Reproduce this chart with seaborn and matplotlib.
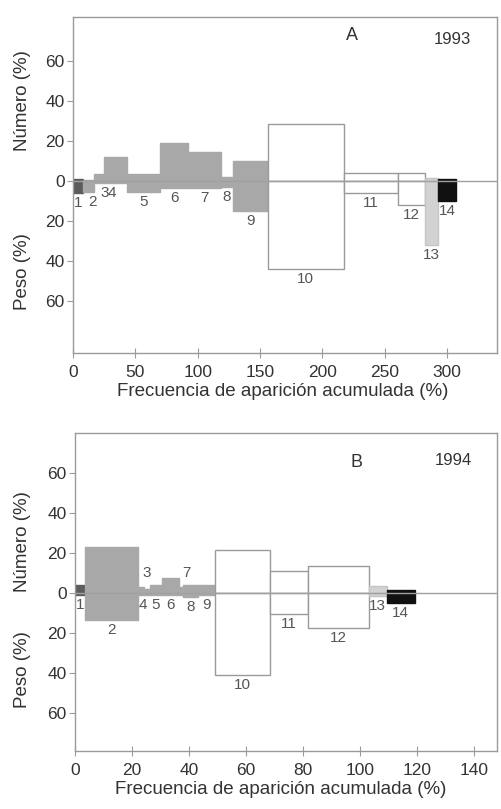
import matplotlib
matplotlib.use("Agg")
import matplotlib.pyplot as plt
from matplotlib.ticker import FuncFormatter
import numpy as np
import pandas as pd
import seaborn as sns

# Prey items (1-14): frequency of occurrence (%), number (%) and weight (%)
items = list(range(1, 15))

freq_1993 = [8, 8.5, 8.5, 18.5, 26.5, 22, 26.5, 9.5, 28, 61, 43.5, 22, 10.5, 14.5]
num_1993 = [1, 0.5, 3.5, 12, 3.5, 19, 14.5, 2, 10, 28.5, 4, 4, 1.5, 1]
peso_1993 = [6, 5.5, 1, 1, 5.5, 3.5, 3.5, 3, 15, 44, 6, 12, 32, 10]

freq_1994 = [3.5, 18.7, 2, 2, 4.3, 6, 1.5, 5, 6, 19.3, 13.3, 21.5, 6.2, 9.8]
num_1994 = [4, 23, 3, 2, 4, 7.5, 3, 4, 4, 21.5, 11, 13.5, 3.5, 1.5]
peso_1994 = [1, 13.5, 1, 1, 1, 1, 1, 2, 1, 41, 10.5, 17.5, 1.5, 5]

# Prey group shading for each item
group = ["dark"] + ["gray"] * 8 + ["white"] * 3 + ["light", "black"]

x_ticks_1993 = [0, 50, 100, 150, 200, 250, 300]
x_ticks_1994 = [0, 20, 40, 60, 80, 100, 120, 140]
y_ticks = [-60, -40, -20, 0, 20, 40, 60]

sns.set_theme(style="ticks")
plt.rcParams["font.family"] = ["Liberation Sans", "DejaVu Sans"]

TXT = "#333333"
EDGE = "#9a9a9a"
face = {"dark": "#5c5c5c", "gray": "#a8a8a8", "white": "#ffffff",
        "light": "#d2d2d2", "black": "#111111"}
edge = {"dark": "#5c5c5c", "gray": "#a8a8a8", "white": "#9a9a9a",
        "light": "#c4c4c4", "black": "#111111"}


def costello(ax, freq, num, peso, xlim, ylim, xticks, nudges):
    df = pd.DataFrame({"item": items, "freq": freq, "num": num,
                       "peso": peso, "group": group})
    df["left"] = df["freq"].cumsum() - df["freq"]
    df["center"] = df["left"] + df["freq"] / 2

    for _, r in df.iterrows():
        for h in (r["num"], -r["peso"]):
            ax.bar(r["left"], h, width=r["freq"], align="edge",
                   color=face[r["group"]], edgecolor=edge[r["group"]],
                   linewidth=1.0, zorder=2)
    ax.axhline(0, color="#a0a0a0", lw=1.0, zorder=3)

    for _, r in df.iterrows():
        dx, above = nudges.get(int(r["item"]), (0, False))
        if above:
            ax.annotate(str(int(r["item"])), (r["center"], r["num"]),
                        xytext=(dx, 5), textcoords="offset points",
                        ha="center", va="bottom", fontsize=11, color="#555555")
        else:
            ax.annotate(str(int(r["item"])), (r["center"], -r["peso"]),
                        xytext=(dx, -2), textcoords="offset points",
                        ha="center", va="top", fontsize=11, color="#555555")

    ax.set_xlim(*xlim)
    ax.set_ylim(*ylim)
    ax.set_xticks(xticks)
    ax.set_yticks(y_ticks)
    ax.yaxis.set_major_formatter(FuncFormatter(lambda v, p: f"{abs(v):.0f}"))
    for s in ax.spines.values():
        s.set_visible(True)
        s.set_color(EDGE)
        s.set_linewidth(1.0)
    ax.tick_params(axis="x", direction="inout", length=7, width=0.8,
                   color=EDGE, labelsize=12.5, labelcolor=TXT, pad=5)
    ax.tick_params(axis="y", direction="out", length=4, width=0.8,
                   color=EDGE, labelsize=12.5, labelcolor=TXT, pad=2)
    ax.set_xlabel("")
    ax.set_ylabel("")
    ax.grid(False)


fig = plt.figure(figsize=(5.01, 8.09), dpi=100)
ax_a = fig.add_axes([0.1457, 0.5637, 0.8463, 0.4153])
ax_b = fig.add_axes([0.1497, 0.0717, 0.8423, 0.3931])

costello(ax_a, freq_1993, num_1993, peso_1993, (0, 340), (-86, 82),
         x_ticks_1993, {2: (3, False), 3: (4, False), 4: (-3, False)})
costello(ax_b, freq_1994, num_1994, peso_1994, (0, 148), (-79, 80),
         x_ticks_1994, {3: (4, True), 7: (4, True), 4: (-3, False)})

ax_a.text(0.658, 0.946, "A", transform=ax_a.transAxes, ha="center",
          va="center", fontsize=13, color=TXT)
ax_a.text(0.894, 0.932, "1993", transform=ax_a.transAxes, ha="center",
          va="center", fontsize=12, color=TXT)
ax_b.text(0.666, 0.906, "B", transform=ax_b.transAxes, ha="center",
          va="center", fontsize=13, color=TXT)
ax_b.text(0.896, 0.915, "1994", transform=ax_b.transAxes, ha="center",
          va="center", fontsize=12, color=TXT)

xlab = "Frecuencia de aparición acumulada (%)"
fig.text(0.565, 0.5155, xlab, ha="center", va="center", fontsize=13.5, color=TXT)
fig.text(0.561, 0.0235, xlab, ha="center", va="center", fontsize=13.5, color=TXT)

for y_num, y_peso in ((0.876, 0.664), (0.331, 0.172)):
    fig.text(0.044, y_num, "Número (%)", rotation=90, ha="center",
             va="center", fontsize=13.5, color=TXT)
    fig.text(0.044, y_peso, "Peso (%)", rotation=90, ha="center",
             va="center", fontsize=13.5, color=TXT)

fig.savefig("out.png", dpi=100, facecolor="white")
